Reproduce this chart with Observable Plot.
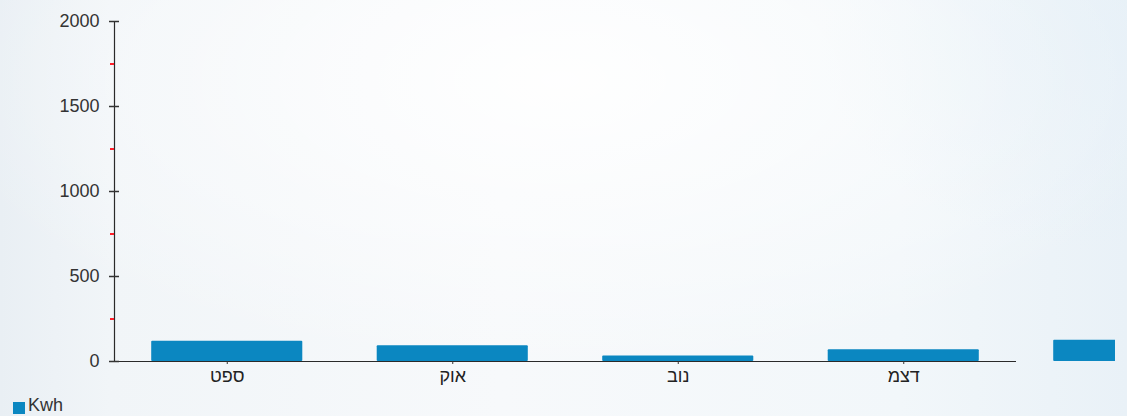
<!DOCTYPE html>
<html>
<head>
<meta charset="utf-8">
<script src="https://cdn.jsdelivr.net/npm/d3@7"></script>
<script src="https://cdn.jsdelivr.net/npm/@observablehq/plot@0.6"></script>
<style>
  html, body { margin: 0; padding: 0; }
  body {
    width: 1127px; height: 416px; overflow: hidden;
    font-family: "Liberation Sans", Arial, sans-serif;
    background:
      radial-gradient(ellipse 900px 420px at 560px 80px, rgba(255,255,255,0.9), rgba(255,255,255,0) 70%),
      radial-gradient(ellipse 400px 300px at 1100px 40px, rgba(230,240,247,0.9), rgba(230,240,247,0) 70%),
      linear-gradient(90deg, #e9eff4 0px, #f1f5f8 110px, #f7f9fb 500px, #f2f7fa 900px, #e9f1f7 1127px);
  }
  #chart svg { display: block; }
  #legend { display: flex; align-items: center; margin-left: 13px; margin-top: 3px; font-size: 18px; color: #333; }
  #legend .sw { width: 12px; height: 12px; background: #0b87c1; margin-right: 3px; margin-top: 4px; }
</style>
</head>
<body>
<div id="chart"></div>
<div id="legend"><span class="sw"></span><span>Kwh</span></div>
<script>
const months = ["ספט", "אוק", "נוב", "דצמ", "ינו"];
const kwh = [119, 92, 33, 69, 125];
const yTicks = [0, 500, 1000, 1500, 2000];
const yMinorTicks = [250, 750, 1250, 1750];
const seriesName = "Kwh";

const data = months.map((m, i) => ({month: m, i, value: kwh[i]}));
const visibleCount = 4;

const chart = Plot.plot({
  width: 1115,
  height: 392,
  marginLeft: 114,
  marginRight: 99,
  marginTop: 21,
  marginBottom: 31,
  style: {background: "transparent", fontFamily: "Liberation Sans, Arial, sans-serif", fontSize: "18px", color: "#333"},
  x: {type: "linear", domain: [0, visibleCount], label: null},
  y: {domain: [0, 2000], label: null},
  marks: [
    Plot.rectY(data, {x1: d => d.i + 0.165, x2: d => d.i + 0.835, y1: 0, y2: "value", fill: "#0b87c1", rx: 1, clip: false}),
    Plot.ruleX([0], {y1: 0, y2: 2000, stroke: "#2a2a2a", strokeWidth: 1.2}),
    Plot.ruleY([0], {x1: 0, x2: visibleCount, stroke: "#2a2a2a", strokeWidth: 1.2}),
    Plot.axisY({ticks: yTicks, tickSize: 5, tickPadding: 10, stroke: "#333", fill: "#333", strokeWidth: 1.5, fontSize: 18, tickFormat: d => String(d), label: null}),
    Plot.axisY({ticks: yTicks, tickSize: 5, dx: 5, text: null, stroke: "#333", strokeWidth: 1.5, label: null}),
    Plot.axisY({ticks: yMinorTicks, tickSize: 4, text: null, stroke: "#ff1f2a", strokeWidth: 2, strokeOpacity: 1, label: null}),
    Plot.axisX({ticks: d3.range(visibleCount).map(i => i + 0.5), tickSize: 3, tickPadding: 5, tickFormat: v => months[Math.floor(v)], stroke: "#333", fill: "#222", fontSize: 18, label: null})
  ]
});
document.getElementById("chart").appendChild(chart);
</script>
</body>
</html>
